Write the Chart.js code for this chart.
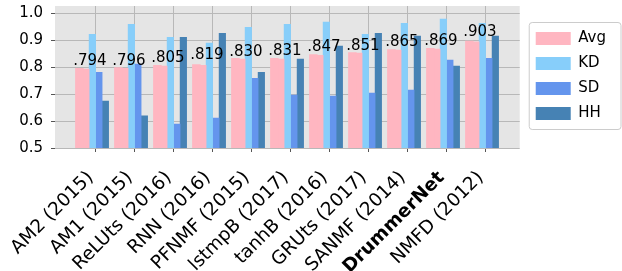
<!DOCTYPE html>
<html>
<head>
<meta charset="utf-8">
<script src="https://cdn.jsdelivr.net/npm/chart.js@4/dist/chart.umd.min.js"></script>
<style>
html,body{margin:0;padding:0;background:#fff;}
#wrap{width:622px;height:271px;}
</style>
</head>
<body>
<div id="wrap"><canvas id="c" width="622" height="271"></canvas></div>
<script>
const categories = ['AM2 (2015)','AM1 (2015)','ReLUts (2016)','RNN (2016)','PFNMF (2015)','lstmpB (2017)','tanhB (2016)','GRUts (2017)','SANMF (2014)','DrummerNet','NMFD (2012)'];
const avg = [0.793, 0.796, 0.804, 0.807, 0.830, 0.830, 0.844, 0.852, 0.863, 0.867, 0.894];
const avgLabels = ['.794','.796','.805','.819','.830','.831','.847','.851','.865','.869','.903'];
const kd = [0.922, 0.959, 0.911, 0.889, 0.948, 0.959, 0.967, 0.922, 0.963, 0.978, 0.963];
const sd = [0.781, 0.811, 0.589, 0.611, 0.759, 0.696, 0.693, 0.704, 0.715, 0.826, 0.833];
const hh = [0.674, 0.619, 0.911, 0.926, 0.781, 0.830, 0.878, 0.926, 0.915, 0.804, 0.915];
const yTicks = [0.5, 0.6, 0.7, 0.8, 0.9, 1.0];
const boldCategory = 'DrummerNet';

const FONT = "'DejaVu Sans', sans-serif";
const pts = arr => arr.map((v, i) => ({x: i, y: v}));
const LEG_DX = 6, LEG_DY = -1;

const bgPlugin = {
  id: 'bg',
  afterInit(chart) {
    const lg = chart.legend;
    if (!lg) return;
    const fit = lg.fit;
    lg.fit = function () { fit.call(this); this.width += LEG_DX; };
    const draw = lg.draw;
    lg.draw = function () {
      const ctx = this.ctx;
      ctx.save();
      ctx.translate(LEG_DX, LEG_DY);
      draw.call(this);
      ctx.restore();
    };
  },
  beforeDraw(chart) {
    const {ctx, chartArea: a} = chart;
    ctx.save();
    ctx.fillStyle = '#ffffff';
    ctx.fillRect(0, 0, chart.width, chart.height);
    ctx.fillStyle = '#e5e5e5';
    ctx.fillRect(a.left, a.top, a.right - a.left, a.bottom - a.top);
    const hb = chart.legend && chart.legend.legendHitBoxes;
    if (hb && hb.length) {
      const l = hb[0].left + LEG_DX - 7;
      const t = hb[0].top + LEG_DY - 9;
      const last = hb[hb.length - 1];
      const b = last.top + LEG_DY + last.height + 8;
      const r = chart.width - 1.5;
      ctx.beginPath();
      ctx.roundRect(l + 0.5, t + 0.5, r - l, b - t, 3);
      ctx.fillStyle = 'rgba(255,255,255,0.8)';
      ctx.fill();
      ctx.strokeStyle = '#cccccc';
      ctx.lineWidth = 1;
      ctx.stroke();
    }
    ctx.restore();
  }
};

const labelPlugin = {
  id: 'vlabels',
  afterDatasetsDraw(chart) {
    const {ctx, scales: {x, y}} = chart;
    ctx.save();
    ctx.font = '15px ' + FONT;
    ctx.fillStyle = '#000';
    ctx.textAlign = 'center';
    ctx.textBaseline = 'alphabetic';
    avgLabels.forEach((s, i) => {
      const v = parseFloat('0' + s);
      ctx.fillText(s, x.getPixelForValue(i - 0.145), y.getPixelForValue(v) - 3.5);
    });
    ctx.restore();
  }
};

new Chart(document.getElementById('c'), {
  type: 'bar',
  data: {
    datasets: [
      {label: 'Avg', data: pts(avg), backgroundColor: '#FFB6C1', inflateAmount: 1},
      {label: '', data: pts(avg), backgroundColor: '#FFB6C1'},
      {label: 'KD', data: pts(kd), backgroundColor: '#87CEFA'},
      {label: 'SD', data: pts(sd), backgroundColor: '#6495ED'},
      {label: 'HH', data: pts(hh), backgroundColor: '#4682B4'},
      {label: '', data: categories.map((c, i) => ({x: i, y: null})), backgroundColor: 'rgba(0,0,0,0)'}
    ]
  },
  options: {
    responsive: false,
    animation: false,
    devicePixelRatio: 1,
    layout: {padding: {left: 0, right: 6, top: 6, bottom: 0}},
    datasets: {bar: {categoryPercentage: 1, barPercentage: 1, borderWidth: 0}},
    plugins: {
      tooltip: {enabled: false},
      legend: {
        position: 'right',
        align: 'center',
        fullSize: false,
        labels: {
          filter: item => item.text !== '',
          boxWidth: 35,
          boxHeight: 13,
          padding: 10,
          color: '#000',
          font: {family: FONT, size: 15}
        }
      }
    },
    scales: {
      x: {
        type: 'linear',
        min: -1.0417,
        max: 10.875,
        offset: false,
        afterBuildTicks: s => { s.ticks = categories.map((c, i) => ({value: i})); },
        afterFit: s => { s.paddingLeft = 0; s.paddingRight = 0; s.height = 123; },
        ticks: {
          autoSkip: false,
          minRotation: 45,
          maxRotation: 45,
          padding: 15,
          labelOffset: -5,
          color: '#000',
          callback: v => categories[v],
          font: ctx => ({family: FONT, size: 18.5, weight: (ctx.tick && categories[ctx.tick.value] === boldCategory) ? 'bold' : 'normal'})
        },
        grid: {color: '#b8b8b8', lineWidth: 1, tickLength: 4, tickColor: '#555', offset: false},
        border: {display: false}
      },
      y: {
        min: 0.5,
        max: 1.027,
        afterBuildTicks: s => { s.ticks = yTicks.map(v => ({value: v})); },
        afterFit: s => { s.paddingTop = 0; s.paddingBottom = 0; s.width = 55; },
        ticks: {
          padding: 8,
          color: '#000',
          font: {family: FONT, size: 15},
          callback: v => Number(v).toFixed(1)
        },
        grid: {color: '#b8b8b8', lineWidth: 1, tickLength: 4, tickColor: '#555'},
        border: {display: false}
      }
    }
  },
  plugins: [bgPlugin, labelPlugin]
});
</script>
</body>
</html>
